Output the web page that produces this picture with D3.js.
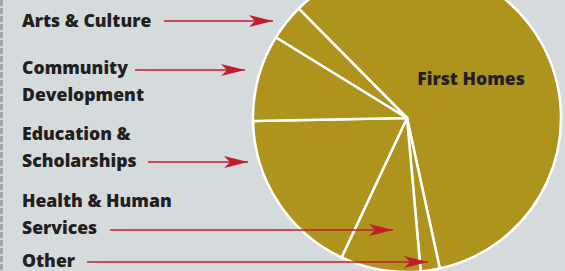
<!DOCTYPE html>
<html>
<head>
<meta charset="utf-8">
<script src="https://cdn.jsdelivr.net/npm/d3@7"></script>
<style>
  html, body { margin: 0; padding: 0; background: #d5dadd; }
  svg { display: block; }
</style>
</head>
<body>
<div id="chart"></div>
<script>
// slice data, clockwise from the top-left edge of First Homes
var categories = ["First Homes", "Other", "Health & Human Services", "Education & Scholarships", "Community Development", "Arts & Culture"];
var shares = [59.0, 2.0, 8.4, 17.7, 9.1, 3.8];

// left-hand labels (line breaks)
var labelLines = [
  ["Arts & Culture"],
  ["Community", "Development"],
  ["Education &", "Scholarships"],
  ["Health & Human", "Services"],
  ["Other"]
];

var width = 565, height = 271;
var cx = 407, cy = 118, radius = 154;
var startDeg = -44.7;
var font = "'Open Sans', sans-serif";
var fontSize = 17.6;

// layout of the label block: first baseline, arrow start x, arrow y, arrow tip x
var labelLayout = [
  {y: 27, x0: 164, ay: 21, x1: 273},
  {y: 74, x0: 135, ay: 70, x1: 245},
  {y: 140, x0: 148, ay: 162, x1: 248},
  {y: 207, x0: 110, ay: 230, x1: 393},
  {y: 267, x0: 87, ay: 262, x1: 428}
];
var lineGap = 26.6;

var svg = d3.select("#chart")
  .append("svg")
  .attr("width", width)
  .attr("height", height);

svg.append("rect")
  .attr("width", width)
  .attr("height", height)
  .attr("fill", "#d5dadd");

// dashed rule down the left edge
svg.append("line")
  .attr("x1", 1.5).attr("x2", 1.5)
  .attr("y1", 0).attr("y2", height)
  .attr("stroke", "#9ea4a8")
  .attr("stroke-width", 3)
  .attr("stroke-dasharray", "6,2");

var data = categories.map(function(c, i) { return {name: c, value: shares[i]}; });

var pie = d3.pie()
  .sort(null)
  .value(function(d) { return d.value; })
  .startAngle(startDeg * Math.PI / 180)
  .endAngle(startDeg * Math.PI / 180 + 2 * Math.PI);

var arc = d3.arc().innerRadius(0).outerRadius(radius);

var g = svg.append("g")
  .attr("transform", "translate(" + cx + "," + cy + ")");

g.selectAll("path")
  .data(pie(data))
  .enter()
  .append("path")
  .attr("d", arc)
  .attr("fill", "#ae931c")
  .attr("stroke", "#ffffff")
  .attr("stroke-width", 2.5)
  .attr("stroke-linejoin", "round");

g.append("text")
  .attr("x", 64)
  .attr("y", -33)
  .attr("text-anchor", "middle")
  .attr("font-family", font)
  .attr("font-weight", 800)
  .attr("font-size", fontSize)
  .attr("fill", "#231f20")
  .text("First Homes");

// arrowhead, concave back
svg.append("defs").append("marker")
  .attr("id", "head")
  .attr("viewBox", "0 0 24 12")
  .attr("refX", 24).attr("refY", 6)
  .attr("markerWidth", 24).attr("markerHeight", 12)
  .attr("markerUnits", "userSpaceOnUse")
  .attr("orient", "auto")
  .append("path")
  .attr("d", "M0,0 L24,6 L0,12 L6,6 Z")
  .attr("fill", "#c01f2a");

var labels = svg.selectAll("g.label")
  .data(labelLines)
  .enter()
  .append("g")
  .attr("class", "label");

labels.each(function(lines, i) {
  var L = labelLayout[i];
  var t = d3.select(this).append("text")
    .attr("font-family", font)
    .attr("font-weight", 800)
    .attr("font-size", fontSize)
    .attr("fill", "#231f20");
  lines.forEach(function(s, j) {
    t.append("tspan").attr("x", 22).attr("y", L.y + j * lineGap).text(s);
  });
  d3.select(this).append("line")
    .attr("x1", L.x0).attr("x2", L.x1)
    .attr("y1", L.ay).attr("y2", L.ay)
    .attr("stroke", "#c01f2a")
    .attr("stroke-width", 1.6)
    .attr("marker-end", "url(#head)");
});
</script>
</body>
</html>
